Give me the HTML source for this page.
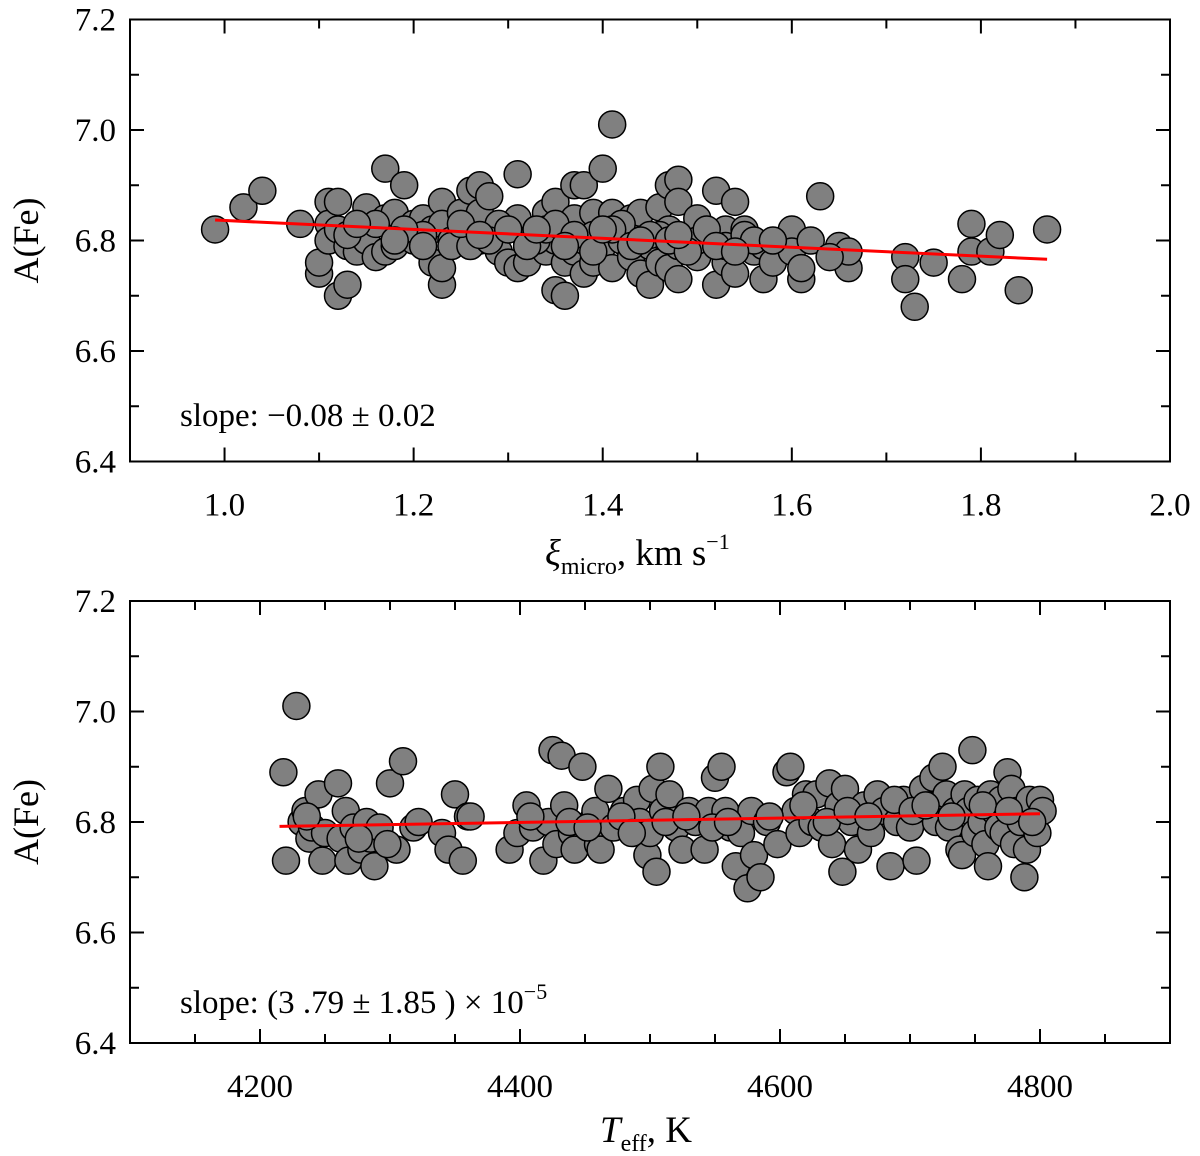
<!DOCTYPE html>
<html><head><meta charset="utf-8">
<style>
html,body{margin:0;padding:0;background:#fff;}
svg{display:block;font-family:"Liberation Serif",serif;}
</style></head>
<body>
<svg id="chart" width="1200" height="1156" viewBox="0 0 1200 1156">
<g id="p1"></g>
<g id="p2"></g>
</svg>
<script>
// ---- data ----
const xiVals=[0.99,1.02,1.04,1.08,1.10,1.10,1.11,1.11,1.11,1.12,1.12,1.12,1.13,1.13,1.14,1.14,1.15,1.15,1.16,1.17,1.17,1.17,1.18,1.18,1.19,1.20,1.20,1.21,1.22,1.22,1.23,1.23,1.23,1.23,1.24,1.25,1.25,1.26,1.26,1.27,1.27,1.27,1.28,1.28,1.29,1.30,1.30,1.31,1.31,1.31,1.32,1.32,1.33,1.34,1.34,1.35,1.35,1.35,1.36,1.36,1.36,1.37,1.37,1.37,1.38,1.38,1.38,1.39,1.39,1.40,1.40,1.40,1.41,1.41,1.41,1.42,1.43,1.43,1.43,1.44,1.44,1.44,1.45,1.45,1.46,1.46,1.47,1.47,1.47,1.48,1.48,1.48,1.48,1.49,1.50,1.50,1.51,1.52,1.52,1.52,1.53,1.53,1.54,1.54,1.55,1.55,1.56,1.57,1.57,1.58,1.60,1.60,1.61,1.61,1.62,1.63,1.65,1.66,1.66,1.72,1.72,1.73,1.75,1.78,1.79,1.79,1.81,1.82,1.84,1.87,1.21,1.24,1.29,1.33,1.39,1.42,1.46,1.50,1.26,1.34,1.13,1.16,1.19,1.21,1.25,1.28,1.30,1.32,1.35,1.37,1.39,1.41,1.43,1.45,1.47,1.49,1.51,1.53,1.55,1.56,1.14,1.18,1.27,1.33,1.36,1.40,1.44,1.48,1.52,1.54,1.58,1.64];
const xiFe=[6.82,6.86,6.89,6.83,6.74,6.76,6.87,6.83,6.80,6.87,6.70,6.82,6.72,6.79,6.78,6.82,6.86,6.80,6.77,6.93,6.84,6.78,6.79,6.85,6.90,6.80,6.83,6.84,6.76,6.82,6.87,6.72,6.75,6.83,6.80,6.81,6.85,6.89,6.82,6.90,6.80,6.85,6.88,6.81,6.78,6.76,6.82,6.92,6.75,6.84,6.80,6.76,6.82,6.85,6.78,6.71,6.87,6.80,6.70,6.82,6.76,6.90,6.84,6.78,6.90,6.74,6.80,6.85,6.76,6.93,6.82,6.79,7.01,6.75,6.85,6.80,6.84,6.77,6.82,6.74,6.80,6.85,6.72,6.79,6.86,6.76,6.90,6.75,6.82,6.91,6.87,6.73,6.79,6.80,6.84,6.77,6.81,6.89,6.72,6.80,6.76,6.82,6.87,6.74,6.79,6.82,6.78,6.73,6.79,6.76,6.82,6.78,6.73,6.75,6.80,6.88,6.79,6.75,6.78,6.77,6.73,6.68,6.76,6.73,6.83,6.78,6.78,6.81,6.71,6.82,6.81,6.79,6.83,6.80,6.81,6.83,6.81,6.80,6.79,6.82,6.81,6.83,6.82,6.79,6.83,6.80,6.82,6.79,6.83,6.81,6.78,6.82,6.79,6.81,6.80,6.78,6.82,6.79,6.81,6.80,6.83,6.80,6.81,6.82,6.79,6.82,6.80,6.81,6.79,6.78,6.80,6.77];
const teffVals=[4218,4220,4228,4232,4235,4238,4240,4245,4248,4250,4260,4262,4266,4268,4272,4278,4282,4285,4288,4292,4300,4305,4310,4318,4322,4340,4345,4350,4356,4360,4362,4392,4398,4405,4410,4418,4422,4425,4428,4432,4434,4440,4442,4448,4455,4458,4460,4462,4468,4472,4480,4490,4492,4498,4500,4502,4505,4508,4510,4515,4520,4525,4530,4535,4542,4545,4550,4555,4558,4562,4566,4570,4575,4578,4580,4585,4590,4598,4605,4608,4612,4615,4620,4625,4628,4632,4638,4640,4645,4648,4650,4655,4660,4665,4670,4675,4680,4685,4690,4695,4700,4705,4710,4715,4718,4720,4725,4728,4730,4735,4738,4740,4742,4745,4748,4750,4752,4755,4758,4760,4762,4765,4768,4770,4772,4775,4778,4780,4782,4785,4788,4790,4792,4795,4798,4800,4802,4236,4276,4298,4408,4438,4452,4478,4486,4512,4528,4548,4560,4592,4618,4636,4652,4668,4688,4702,4712,4732,4756,4776,4794];
const teffFe=[6.89,6.73,7.01,6.80,6.82,6.77,6.79,6.85,6.73,6.78,6.87,6.77,6.82,6.73,6.79,6.75,6.80,6.77,6.72,6.79,6.87,6.75,6.91,6.79,6.80,6.78,6.75,6.85,6.73,6.81,6.81,6.75,6.78,6.83,6.79,6.73,6.80,6.93,6.76,6.92,6.83,6.78,6.75,6.90,6.80,6.82,6.76,6.75,6.86,6.79,6.82,6.84,6.80,6.74,6.78,6.86,6.71,6.90,6.82,6.85,6.79,6.75,6.82,6.80,6.75,6.82,6.88,6.90,6.82,6.79,6.72,6.78,6.68,6.82,6.74,6.70,6.80,6.76,6.89,6.90,6.82,6.78,6.85,6.80,6.85,6.79,6.87,6.76,6.83,6.71,6.86,6.80,6.75,6.83,6.78,6.85,6.82,6.72,6.80,6.84,6.79,6.73,6.86,6.83,6.88,6.80,6.90,6.85,6.79,6.82,6.75,6.74,6.85,6.82,6.93,6.78,6.84,6.80,6.76,6.72,6.85,6.82,6.79,6.84,6.78,6.89,6.86,6.76,6.82,6.80,6.70,6.75,6.84,6.80,6.78,6.84,6.82,6.81,6.77,6.76,6.81,6.80,6.79,6.81,6.78,6.80,6.81,6.79,6.80,6.81,6.83,6.80,6.82,6.81,6.84,6.82,6.83,6.81,6.83,6.82,6.80];
const fit1X=[0.99,1.87], fit1Y=[6.837,6.766];
const fit2X=[4215,4800], fit2Y=[6.792,6.815];
const yTicks=[6.4,6.6,6.8,7.0,7.2];
const xTicks1=[1.0,1.2,1.4,1.6,1.8,2.0];
const xTicks2=[4200,4400,4600,4800];

const NS="http://www.w3.org/2000/svg";
function mk(parent,tag,attrs){const e=document.createElementNS(NS,tag);for(const k in attrs)e.setAttribute(k,attrs[k]);parent.appendChild(e);return e;}

function panel(g,top,xmin,xmax,xminor,xTicks,xfmt,xs,ys,fx,fy,pfx){
  const L=130,R=1170,T=top,B=top+442;
  const X=v=>L+(v-xmin)/(xmax-xmin)*(R-L);
  const Y=v=>B-(v-6.4)/0.8*(B-T);
  const frame=mk(g,'rect',{x:L,y:T,width:R-L,height:B-T,fill:'none',stroke:'#000','stroke-width':2});
  
  
  for(let v=6.4;v<=7.2001;v+=0.1){
    const major=Math.abs(Math.round(v*10)%2)===0;const len=major?14:9;const y=Y(v);
    const t1=mk(g,'line',{x1:L,y1:y,x2:L+len,y2:y,stroke:'#000','stroke-width':2});
    
    
    const t2=mk(g,'line',{x1:R,y1:y,x2:R-len,y2:y,stroke:'#000','stroke-width':2});
    
    
  }
  yTicks.forEach(v=>{
    const t=mk(g,'text',{x:L-14,y:Y(v)+11,'text-anchor':'end','font-size':33});
    t.textContent=v.toFixed(1);
    
    
  });
  for(let v=xmin;v<=xmax+xminor*0.01;v+=xminor){
    const major=xTicks.some(t=>Math.abs(t-v)<xminor*0.01);const len=major?14:9;const x=X(v);
    const t1=mk(g,'line',{x1:x,y1:B,x2:x,y2:B-len,stroke:'#000','stroke-width':2});
    
    
    const t2=mk(g,'line',{x1:x,y1:T,x2:x,y2:T+len,stroke:'#000','stroke-width':2});
    
    
  }
  xTicks.forEach(v=>{
    const t=mk(g,'text',{x:X(v),y:B+54,'text-anchor':'middle','font-size':33});
    t.textContent=xfmt(v);
    
    
  });
  xs.forEach((v,k)=>{
    const c=mk(g,'circle',{cx:X(v),cy:Y(ys[k]),r:13.5,fill:'#808080',stroke:'#000','stroke-width':1.5});
    
    
  });
  const ln=mk(g,'line',{x1:X(fx[0]),y1:Y(fy[0]),x2:X(fx[1]),y2:Y(fy[1]),stroke:'#ff0000','stroke-width':3});
  
  
  const yl=mk(g,'text',{x:0,y:0,'text-anchor':'middle','font-size':36,transform:`translate(38,${(T+B)/2}) rotate(-90)`});
  yl.textContent='A(Fe)';
  
  
}
const p1=document.getElementById('p1'),p2=document.getElementById('p2');
panel(p1,19.5,0.9,2.0,0.1,xTicks1,v=>v.toFixed(1),xiVals,xiFe,fit1X,fit1Y,'top');
panel(p2,601,4100,4900,50,xTicks2,v=>String(v),teffVals,teffFe,fit2X,fit2Y,'bottom');
</script>
<div style="position:absolute;left:0;top:0;width:1200px;height:1156px;pointer-events:none;">
<svg width="1200" height="1156" style="position:absolute;left:0;top:0;font-family:'Liberation Serif',serif;">
<text x="180" y="426" font-size="33">slope: −0.08 ± 0.02</text>
<text x="180" y="1013" font-size="33">slope: (3 .79 ± 1.85 ) × 10<tspan dy="-14" font-size="22">−5</tspan></text>
<text x="545" y="565" font-size="37"><tspan font-style="italic">ξ</tspan><tspan dy="9" font-size="24">micro</tspan><tspan dy="-9">, km s</tspan><tspan dy="-16" font-size="22">−1</tspan></text>
<text x="600" y="1142" font-size="37"><tspan font-style="italic">T</tspan><tspan dy="9" font-size="24">eff</tspan><tspan dy="-9">, K</tspan></text>
</svg></div>
</body></html>
